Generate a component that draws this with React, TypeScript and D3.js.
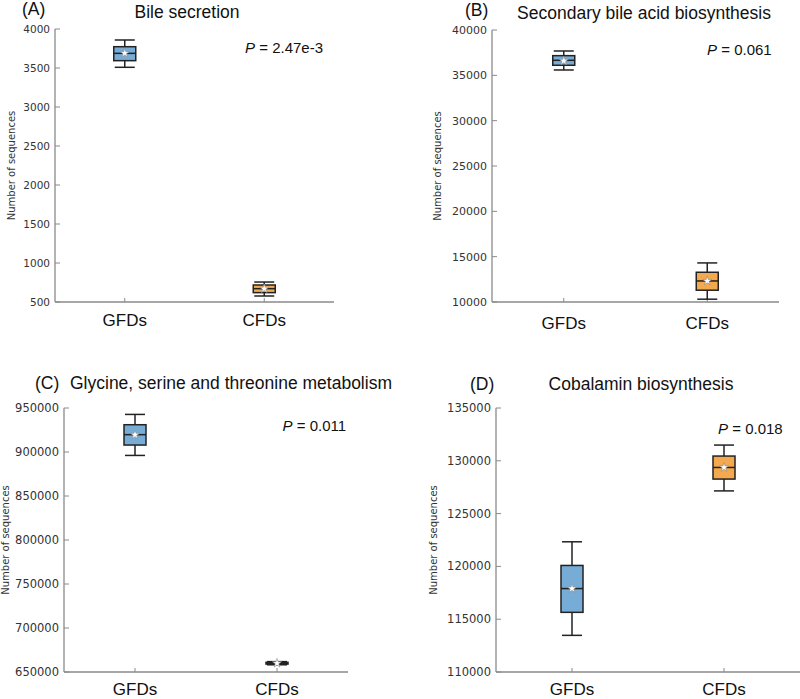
import React from "react";
import * as d3 from "d3";

const categories = ["GFDs", "CFDs"];
const panelLetters = ["(A)", "(B)", "(C)", "(D)"];
const titles = [
  "Bile secretion",
  "Secondary bile acid biosynthesis",
  "Glycine, serine and threonine metabolism",
  "Cobalamin biosynthesis",
];
const pValues = ["2.47e-3", "0.061", "0.011", "0.018"];
const yDomains: [number, number][] = [
  [500, 4000],
  [10000, 40000],
  [650000, 950000],
  [110000, 135000],
];
const yTickSteps = [500, 5000, 50000, 5000];
// [whiskerLow, q1, median, q3, whiskerHigh, mean]
const gfdStats = [
  [3509, 3594, 3688, 3773, 3859, 3690],
  [35590, 36110, 36660, 37170, 37684, 36600],
  [896100, 907900, 919700, 931000, 942700, 919500],
  [113470, 115650, 117900, 120090, 122330, 117900],
];
const cfdStats = [
  [577, 620, 671, 718, 756, 671],
  [10310, 11300, 12320, 13280, 14310, 12320],
  [658200, 659000, 660000, 661000, 661800, 660000],
  [127150, 128270, 129370, 130450, 131490, 129370],
];

const layouts = [
  { ax: 55, top: 29, bottom: 302, right: 334, tickFont: 10.5, yLabelX: 11, letterX: 22, letterY: 14.5, titleX: 187, titleY: 17.5, titleAnchor: "middle", pX: 245, pY: 52.5, catY: 326 },
  { ax: 492, top: 30, bottom: 302, right: 779, tickFont: 11, yLabelX: 437, letterX: 465, letterY: 15.5, titleX: 644, titleY: 18.5, titleAnchor: "middle", pX: 707, pY: 54.5, catY: 328.5 },
  { ax: 64, top: 408, bottom: 672, right: 348, tickFont: 11.5, yLabelX: 5, letterX: 35, letterY: 389, titleX: 70, titleY: 389, titleAnchor: "start", pX: 282.5, pY: 430.5, catY: 695 },
  { ax: 496, top: 408, bottom: 672, right: 800, tickFont: 11.5, yLabelX: 433, letterX: 470, letterY: 390, titleX: 641, titleY: 390, titleAnchor: "middle", pX: 718, pY: 434, catY: 695 },
];

const colors = ["#77acd6", "#f5a94f"];
const axisColor = "#8a8a8a";
const star = d3.symbol().type(d3.symbolStar).size(26)();

function Panel({ i }: { i: number }) {
  const L = layouts[i];
  const y = d3.scaleLinear().domain(yDomains[i]).range([L.bottom, L.top]);
  const x = d3.scalePoint<string>().domain(categories).range([L.ax, L.right]).padding(0.5);
  const ticks = d3.range(yDomains[i][0], yDomains[i][1] + 1, yTickSteps[i]);
  const stats = [gfdStats[i], cfdStats[i]];
  const boxW = 22;
  const capW = 10;
  return (
    <g>
      <line x1={L.ax} x2={L.ax} y1={L.top} y2={L.bottom} stroke={axisColor} strokeWidth={1.3} />
      <line x1={L.ax} x2={L.right} y1={L.bottom} y2={L.bottom} stroke={axisColor} strokeWidth={1.3} />
      {ticks.map((t) => (
        <g key={t}>
          <line x1={L.ax} x2={L.ax + 5} y1={y(t)} y2={y(t)} stroke={axisColor} strokeWidth={1} />
          <text
            x={L.ax - 5}
            y={y(t)}
            dy="0.35em"
            textAnchor="end"
            fontFamily="DejaVu Sans"
            fontSize={L.tickFont}
            fill="#333"
          >
            {t}
          </text>
        </g>
      ))}
      {categories.map((c) => (
        <g key={c}>
          <line x1={x(c)} x2={x(c)} y1={L.bottom} y2={L.bottom - 4} stroke={axisColor} strokeWidth={1} />
          <text
            x={x(c)}
            y={L.catY}
            textAnchor="middle"
            fontFamily="Liberation Sans"
            fontSize={17}
            fill="#111"
          >
            {c}
          </text>
        </g>
      ))}
      <text
        transform={`translate(${L.yLabelX},${(L.top + L.bottom) / 2}) rotate(-90)`}
        textAnchor="middle"
        dominantBaseline="central"
        fontFamily="DejaVu Sans"
        fontSize={10}
        fill="#333"
      >
        Number of sequences
      </text>
      {categories.map((c, k) => {
        const s = stats[k];
        const cx = x(c) as number;
        return (
          <g key={c}>
            <line x1={cx} x2={cx} y1={y(s[0])} y2={y(s[1])} stroke="#222" strokeWidth={1.5} />
            <line x1={cx} x2={cx} y1={y(s[3])} y2={y(s[4])} stroke="#222" strokeWidth={1.5} />
            <line x1={cx - capW} x2={cx + capW} y1={y(s[0])} y2={y(s[0])} stroke="#222" strokeWidth={1.5} />
            <line x1={cx - capW} x2={cx + capW} y1={y(s[4])} y2={y(s[4])} stroke="#222" strokeWidth={1.5} />
            <rect
              x={cx - boxW / 2}
              y={y(s[3])}
              width={boxW}
              height={y(s[1]) - y(s[3])}
              fill={colors[k]}
              stroke="#222"
              strokeWidth={1.5}
            />
            <line x1={cx - boxW / 2} x2={cx + boxW / 2} y1={y(s[2])} y2={y(s[2])} stroke="#222" strokeWidth={1.5} />
            <path d={star as string} transform={`translate(${cx},${y(s[5])})`} fill="#fff" stroke="#888" strokeWidth={0.6} />
          </g>
        );
      })}
      <text x={L.letterX} y={L.letterY} fontFamily="Liberation Sans" fontSize={17.5} fill="#111">
        {panelLetters[i]}
      </text>
      <text x={L.titleX} y={L.titleY} textAnchor={L.titleAnchor as any} fontFamily="Liberation Sans" fontSize={17.5} fill="#111">
        {titles[i]}
      </text>
      <text x={L.pX} y={L.pY} fontFamily="Liberation Sans" fontSize={15} fill="#111">
        <tspan fontStyle="italic">P</tspan>
        <tspan> = {pValues[i]}</tspan>
      </text>
    </g>
  );
}

export default function App() {
  return (
    <svg
      width={800}
      height={699}
      style={{ position: "absolute", left: 0, top: 0, background: "#fff" }}
    >
      <rect width={800} height={699} fill="#fff" />
      {[0, 1, 2, 3].map((i) => (
        <Panel key={i} i={i} />
      ))}
    </svg>
  );
}
